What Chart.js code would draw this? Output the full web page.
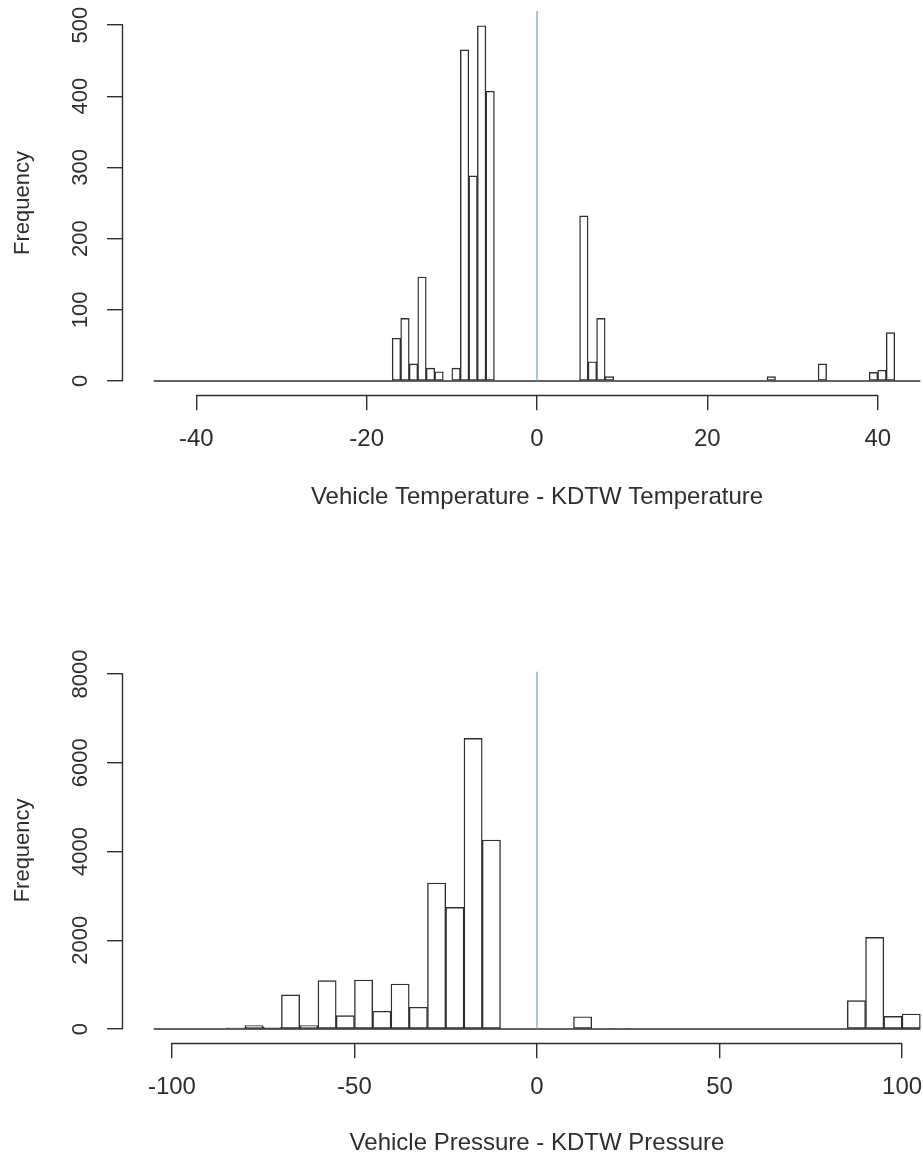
<!DOCTYPE html>
<html>
<head>
<meta charset="utf-8">
<script src="https://cdn.jsdelivr.net/npm/chart.js@4.4.0/dist/chart.umd.min.js"></script>
<style>
  body { margin: 0; background: #fff; width: 923px; height: 1158px; overflow: hidden; position: relative; }
  canvas { position: absolute; left: 0; }
  #temp-canvas { top: 0; }
  #press-canvas { top: 560px; }
</style>
</head>
<body>
<canvas id="temp-canvas" width="951" height="560"></canvas>
<canvas id="press-canvas" width="951" height="598"></canvas>
<script>
// temperature differences, 1 degree bins starting at -45
let tempBinStart = -45;
let tempBinWidth = 1;
let tempCounts = [
  0, 0, 0, 0, 0, 0, 0, 0, 0, 0,
  0, 0, 0, 0, 0, 0, 0, 0, 0, 0,
  0, 0, 0, 0, 0, 0, 0, 0, 60, 88,
  24, 146, 18, 13, 0, 18, 465, 288, 499, 407,
  0, 0, 0, 0, 0, 0, 0, 0, 0, 0,
  232, 27, 88, 6, 0, 0, 0, 0, 0, 0,
  0, 0, 0, 0, 0, 0, 0, 0, 0, 0,
  0, 0, 6, 0, 0, 0, 0, 0, 24, 0,
  0, 0, 0, 0, 12, 15, 68, 0, 0, 0
];
let tempXTicks = [-40, -20, 0, 20, 40];
let tempYTicks = [0, 100, 200, 300, 400, 500];
let tempZeroLine = [0, 520];

// pressure differences, 5 unit bins starting at -105
let pressBinStart = -105;
let pressBinWidth = 5;
let pressCounts = [
  0, 0, 0, 0, 25, 80, 40, 770, 80, 1090,
  300, 1105, 400, 1015, 490, 3290, 2740, 6550, 4260, 0,
  0, 0, 0, 277, 0, 15, 0, 0, 0, 0,
  0, 0, 0, 0, 0, 0, 0, 0, 638, 2065,
  285, 338
];
let pressXTicks = [-100, -50, 0, 50, 100];
let pressYTicks = [0, 2000, 4000, 6000, 8000];
let pressZeroLine = [0, 8050];

const FONT = "'Liberation Sans', Arial, sans-serif";
const INK = '#2e2e2e';
const LINE_W = 1.4;

// R draws the axis line only between the first and last tick
const rAxisLines = {
  id: 'rAxisLines',
  afterDraw(chart) {
    const {ctx, chartArea, scales} = chart;
    const xt = scales.x.ticks;
    const yt = scales.y.ticks;
    ctx.save();
    ctx.strokeStyle = INK;
    ctx.lineWidth = LINE_W;
    ctx.beginPath();
    let y = Math.round(chartArea.bottom) + 0.5;
    ctx.moveTo(scales.x.getPixelForValue(xt[0].value), y);
    ctx.lineTo(scales.x.getPixelForValue(xt[xt.length - 1].value), y);
    let x = Math.round(chartArea.left) - 0.5;
    ctx.moveTo(x, scales.y.getPixelForValue(yt[0].value));
    ctx.lineTo(x, scales.y.getPixelForValue(yt[yt.length - 1].value));
    ctx.stroke();
    ctx.restore();
  }
};

function setHistogram(canvasId, h) {
  let bars = h.counts.map((c, i) => ({x: h.start + h.width * (i + 0.5), y: c}));
  let end = h.start + h.width * h.counts.length;

  return new Chart(document.getElementById(canvasId), {
    type: 'bar',
    data: {
      datasets: [
        {
          type: 'line',
          data: [{x: 0, y: h.zeroLine[0]}, {x: 0, y: h.zeroLine[1]}],
          borderColor: '#6a9fc9',
          borderWidth: 1.2,
          pointRadius: 0,
          order: 0
        },
        {
          type: 'line',
          data: [{x: h.start, y: 0}, {x: end, y: 0}],
          borderColor: INK,
          borderWidth: LINE_W,
          pointRadius: 0,
          order: 1
        },
        {
          data: bars,
          backgroundColor: '#fff',
          borderColor: INK,
          borderWidth: LINE_W,
          borderSkipped: false,
          barPercentage: 1,
          categoryPercentage: 1,
          order: 2
        }
      ]
    },
    options: {
      responsive: false,
      animation: false,
      layout: { padding: { top: h.padTop, left: 0, right: 0, bottom: 0 } },
      plugins: { legend: { display: false }, tooltip: { enabled: false } },
      scales: {
        x: {
          type: 'linear',
          min: h.xMin,
          max: h.xMax,
          offset: false,
          afterBuildTicks: s => { s.ticks = h.xTicks.map(v => ({value: v})); },
          afterFit: s => {
            s.height = h.xAxisHeight;
            s.paddingLeft = s.paddingRight = s.paddingTop = s.paddingBottom = 0;
          },
          border: { display: false },
          grid: { offset: false, drawOnChartArea: false, drawTicks: true, tickLength: 15, color: INK, lineWidth: LINE_W },
          ticks: {
            autoSkip: false,
            maxRotation: 0,
            padding: 15,
            color: INK,
            font: { family: FONT, size: 24 },
            callback: v => String(v)
          },
          title: {
            display: true,
            text: h.xTitle,
            color: INK,
            font: { family: FONT, size: 24 },
            padding: { top: 0, bottom: h.xTitleBottom }
          }
        },
        y: {
          type: 'linear',
          min: h.yMin,
          max: h.yMax,
          afterBuildTicks: s => { s.ticks = h.yTicks.map(v => ({value: v})); },
          afterFit: s => {
            s.width = 123;
            s.paddingLeft = s.paddingRight = s.paddingTop = s.paddingBottom = 0;
          },
          border: { display: false },
          grid: { drawOnChartArea: false, drawTicks: true, tickLength: 16, color: INK, lineWidth: LINE_W },
          ticks: {
            autoSkip: false,
            minRotation: 90,
            maxRotation: 90,
            crossAlign: 'center',
            padding: h.yLabelPad,
            color: INK,
            font: { family: FONT, size: 22 },
            callback: v => String(v)
          },
          title: {
            display: true,
            text: 'Frequency',
            color: INK,
            font: { family: FONT, size: 22 },
            padding: { top: 9.8, bottom: 0 }
          }
        }
      }
    },
    plugins: [rAxisLines]
  });
}

var tempChart = setHistogram('temp-canvas', {
  start: tempBinStart, width: tempBinWidth, counts: tempCounts,
  xTicks: tempXTicks, yTicks: tempYTicks, zeroLine: tempZeroLine,
  xMin: -48.6, xMax: 48.6, yMin: -20, yMax: 520,
  xTitle: 'Vehicle Temperature - KDTW Temperature',
  padTop: 10.8, xAxisHeight: 164.8, xTitleBottom: 48.6, yLabelPad: 7.6
});

var pressChart = setHistogram('press-canvas', {
  start: pressBinStart, width: pressBinWidth, counts: pressCounts,
  xTicks: pressXTicks, yTicks: pressYTicks, zeroLine: pressZeroLine,
  xMin: -113.4, xMax: 113.4, yMin: -322, yMax: 8372,
  xTitle: 'Vehicle Pressure - KDTW Pressure',
  padTop: 97.5, xAxisHeight: 114.7, xTitleBottom: 0.6, yLabelPad: 1.5
});
</script>
</body>
</html>
